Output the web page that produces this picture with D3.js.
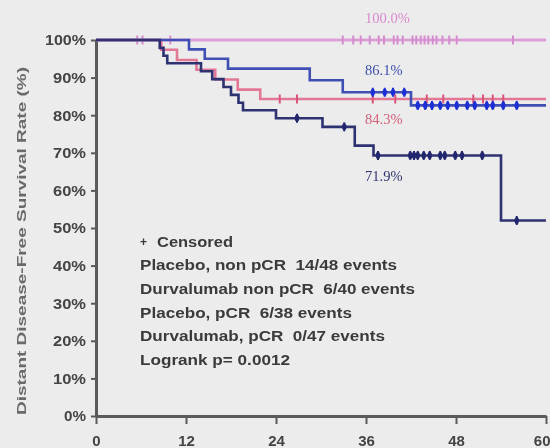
<!DOCTYPE html>
<html>
<head>
<meta charset="utf-8">
<script src="https://cdn.jsdelivr.net/npm/d3@7"></script>
<style>
  html, body { margin: 0; padding: 0; background: #ececec; }
  svg { display: block; }
</style>
</head>
<body>
<svg id="chart" width="550" height="448"></svg>
<script>
// Kaplan-Meier step data: [month, survival %] at each event
const placeboNonPcrSteps = [[0,100],[8.5,97.9],[9.0,95.8],[9.5,93.8],[14.0,91.7],[15.5,89.6],[17.0,87.5],[18.0,85.4],[19.0,83.3],[19.6,81.3],[24.0,79.2],[30.2,76.9],[34.5,71.9],[37.0,69.3],[54.0,52.0]];
const durvaNonPcrSteps   = [[0,100],[12.4,97.5],[14.5,95.0],[17.6,92.4],[28.5,89.3],[32.9,86.1],[42.0,82.6]];
const placeboPcrSteps    = [[0,100],[8.7,97.4],[10.8,94.7],[13.4,92.1],[15.9,89.5],[18.9,86.8],[21.9,84.3]];
const durvaPcrSteps      = [[0,100]];

// Censoring times (months)
const placeboNonPcrCensor = [26.8,33.1,37.6,41.9,42.4,42.9,43.7,44.5,45.9,46.5,47.9,48.8,51.5,56.1];
const durvaNonPcrCensor   = [36.9,38.5,39.6,41.1,42.9,43.9,44.8,45.9,46.9,48.1,49.5,50.5,52.1,52.9,54.3,56.1];
const placeboPcrCensor    = [24.5,26.8,36.9,39.9,44.1,46.3,50.3,51.6,52.9,54.3];
const durvaPcrCensor      = [5.5,6.2,9.9,32.9,34.3,35.3,36.5,37.7,38.4,39.7,40.2,40.9,42.2,42.7,43.3,43.8,44.3,44.9,45.4,46.2,47.1,48.1,55.6];

// Three-year rates printed beside the curves
const rateLabels = ["100.0%", "86.1%", "84.3%", "71.9%"];
const rateValues = [100.0, 86.1, 84.3, 71.9];

const legendLines = [
  "Placebo, non pCR  14/48 events",
  "Durvalumab non pCR  6/40 events",
  "Placebo, pCR  6/38 events",
  "Durvalumab, pCR  0/47 events",
  "Logrank p= 0.0012"
];
const legendWidths = [257, 275, 212, 245, 150];

const xTicks = [0, 12, 24, 36, 48, 60];
const yTicks = [0, 10, 20, 30, 40, 50, 60, 70, 80, 90, 100];
const yTitle = "Distant  Disease-Free Survival Rate (%)";

const svg = d3.select("#chart");

// soft focus applied to the whole plot
const defs = svg.append("defs");
defs.append("filter").attr("id", "soft")
  .attr("x", "-5%").attr("y", "-5%").attr("width", "110%").attr("height", "110%")
  .append("feGaussianBlur").attr("stdDeviation", 0.75);

const root = svg.append("g").attr("filter", "url(#soft)");

const x = d3.scaleLinear().domain([0, 60]).range([96, 546]);
const y = d3.scaleLinear().domain([0, 100]).range([416, 40]);

const sans = "'Liberation Sans', Arial, sans-serif";

// axes
const yAxis = root.append("g").attr("transform", `translate(${x(0)},0)`)
  .call(d3.axisLeft(y).tickValues(yTicks).tickFormat(d => d + "%").tickSize(5).tickSizeOuter(0).tickPadding(5));
const xAxis = root.append("g").attr("transform", `translate(0,${y(0)})`)
  .call(d3.axisBottom(x).tickValues(xTicks).tickSize(8).tickSizeOuter(0).tickPadding(11));

[yAxis, xAxis].forEach(ax => {
  ax.select(".domain").attr("stroke", "#5a5a5a").attr("stroke-width", 3);
  ax.selectAll(".tick line").attr("stroke", "#5a5a5a").attr("stroke-width", 2);
  ax.selectAll(".tick text")
    .attr("fill", "#444")
    .style("font-family", sans)
    .style("font-weight", "bold")
    .style("font-size", "15px");
});
yAxis.selectAll(".tick text").attr("textLength", d => d === 100 ? 41 : (d === 0 ? 22 : 33))
  .attr("lengthAdjust", "spacingAndGlyphs");
// keep the last month label inside the frame
xAxis.selectAll(".tick text").filter(d => d === 60).attr("text-anchor", "end").attr("x", 4);

root.append("text")
  .attr("transform", `translate(23,${241}) rotate(-90)`)
  .attr("text-anchor", "middle")
  .attr("dominant-baseline", "middle")
  .attr("textLength", 348)
  .attr("lengthAdjust", "spacingAndGlyphs")
  .attr("fill", "#6a6a6a")
  .style("font-family", sans)
  .style("font-weight", "bold")
  .style("font-size", "12.5px")
  .text(yTitle);

const line = d3.line().x(d => x(d[0])).y(d => y(d[1])).curve(d3.curveStepAfter);

function survivalAt(steps, t) {
  let s = steps[0][1];
  for (const p of steps) if (p[0] <= t) s = p[1];
  return s;
}

const groups = [
  { steps: durvaPcrSteps,      censor: durvaPcrCensor,      color: "#dc9fd6", mark: "#d58ccf", width: 3,   tick: "line" },
  { steps: placeboPcrSteps,    censor: placeboPcrCensor,    color: "#e27896", mark: "#d9557a", width: 2.6, tick: "line" },
  { steps: durvaNonPcrSteps,   censor: durvaNonPcrCensor,   color: "#4150b4", mark: "#1f2ed6", width: 2.6, tick: "dot" },
  { steps: placeboNonPcrSteps, censor: placeboNonPcrCensor, color: "#2d3070", mark: "#22276e", width: 2.6, tick: "dot" }
];

groups.forEach(g => {
  const pts = g.steps.concat([[60, g.steps[g.steps.length - 1][1]]]);
  root.append("path").datum(pts)
    .attr("fill", "none").attr("stroke", g.color).attr("stroke-width", g.width)
    .attr("d", line);
  const cg = root.append("g");
  cg.selectAll("line").data(g.censor).join("line")
    .attr("x1", d => x(d)).attr("x2", d => x(d))
    .attr("y1", d => y(survivalAt(g.steps, d)) - 4.5)
    .attr("y2", d => y(survivalAt(g.steps, d)) + 4.5)
    .attr("stroke", g.mark).attr("stroke-width", 2);
  if (g.tick === "dot") {
    cg.selectAll("ellipse").data(g.censor).join("ellipse")
      .attr("cx", d => x(d)).attr("cy", d => y(survivalAt(g.steps, d)))
      .attr("rx", 2.2).attr("ry", 3.6).attr("fill", g.mark);
  }
});

// rate labels at 36 months
const labelColors = ["#d98ad0", "#3f4fb0", "#d9607a", "#2f3372"];
const labelY = [20, 72, 121, 178];
root.append("g").selectAll("text").data(rateLabels).join("text")
  .attr("x", x(36) - 1)
  .attr("y", (d, i) => labelY[i])
  .attr("dominant-baseline", "middle")
  .attr("fill", (d, i) => labelColors[i])
  .style("font-family", "'Liberation Serif', 'Times New Roman', serif")
  .style("font-size", "14.5px")
  .text(d => d);

// legend block
const lg = root.append("g").style("font-family", sans)
  .style("font-weight", "bold").style("font-size", "14.5px").attr("fill", "#3a3a3a");
lg.append("text").attr("x", 140).attr("y", 243).attr("dominant-baseline", "middle")
  .style("font-size", "12px").text("+");
lg.append("text").attr("x", 157).attr("y", 243).attr("dominant-baseline", "middle")
  .attr("textLength", 76).attr("lengthAdjust", "spacingAndGlyphs").text("Censored");
lg.selectAll("text.row").data(legendLines).join("text").attr("class", "row")
  .attr("x", 140).attr("y", (d, i) => 266.5 + i * 23.6)
  .attr("dominant-baseline", "middle")
  .attr("textLength", (d, i) => legendWidths[i])
  .attr("lengthAdjust", "spacingAndGlyphs")
  .style("white-space", "pre")
  .text(d => d);
</script>
</body>
</html>
